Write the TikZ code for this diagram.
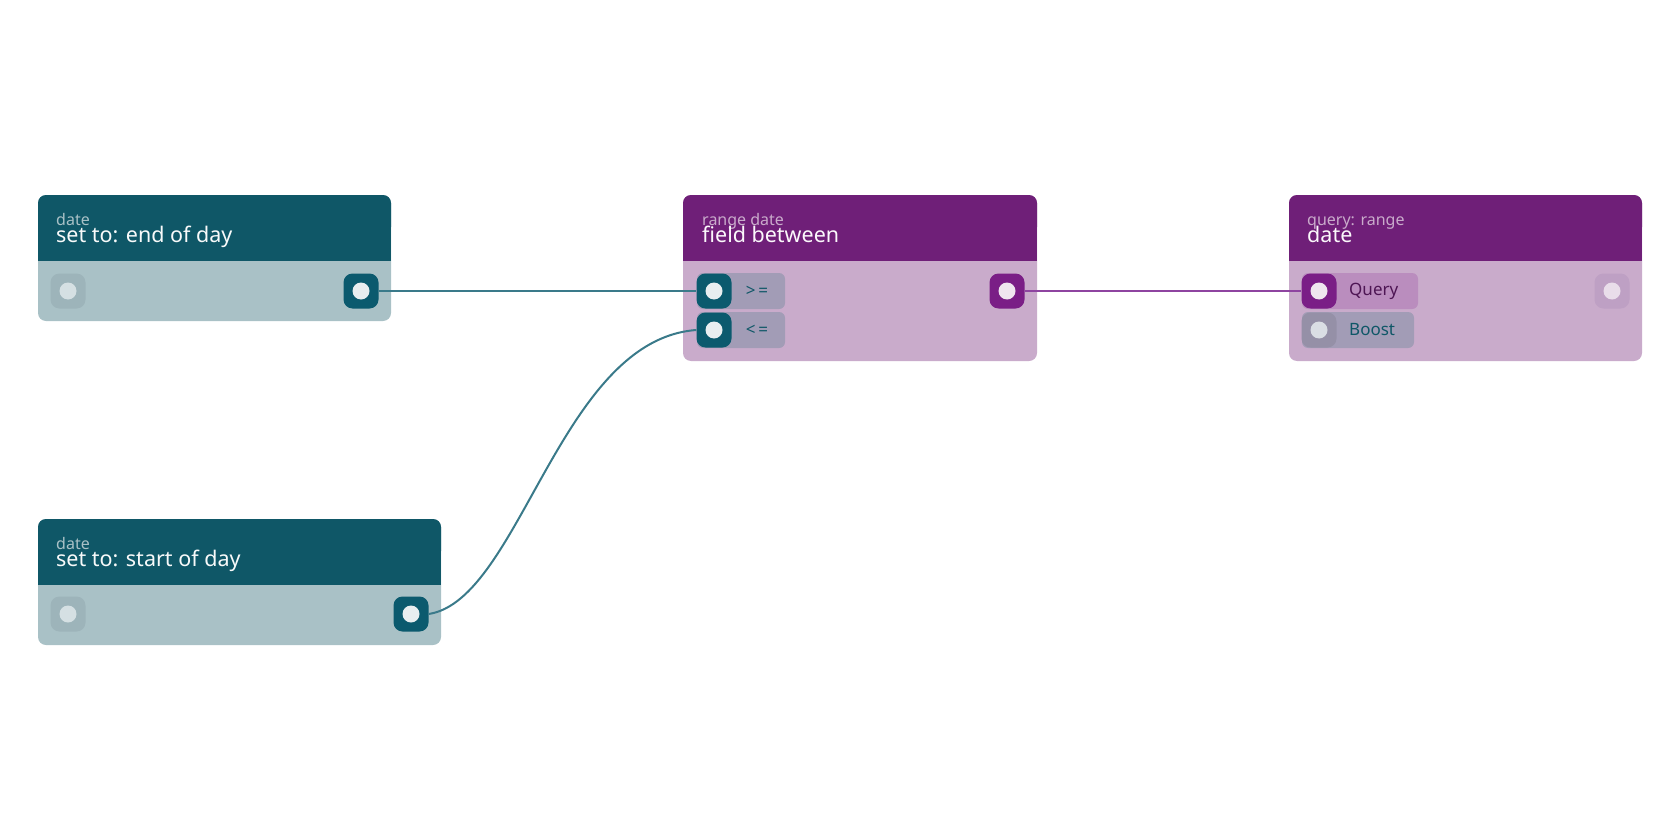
\documentclass[tikz,border=0pt]{standalone}
\usepackage{fontspec}
\setmainfont{Noto Sans}
\definecolor{tealh}{HTML}{0F5767}
\definecolor{tealb}{HTML}{A9C1C6}
\definecolor{tealp}{HTML}{0B5A6E}
\definecolor{tealin}{HTML}{9DB4BA}
\definecolor{purh}{HTML}{6F1F78}
\definecolor{purb}{HTML}{C9ABCB}
\definecolor{purp}{HTML}{7A1E86}
\definecolor{purin}{HTML}{BEA0C4}
\definecolor{chipg}{HTML}{A29CB6}
\definecolor{chipq}{HTML}{BA8DBE}
\definecolor{dot}{HTML}{E8EEF0}
\definecolor{tline}{HTML}{3A7A8A}
\definecolor{pline}{HTML}{8E44A0}
\begin{document}
\begin{tikzpicture}[x=1pt,y=-1pt,
  sub/.style={anchor=base west,font=\fontsize{16}{16}\selectfont,inner sep=0},
  ttl/.style={anchor=base west,font=\fontsize{21.5}{21}\selectfont,inner sep=0},
  port/.style={minimum size=35pt,inner sep=0,rounded corners=9pt},
  dotc/.style={circle,fill=dot,minimum size=17pt,inner sep=0},
  lbl/.style={font=\fontsize{17}{17}\selectfont,inner sep=0}]
\useasboundingbox (0,0) rectangle (1680,840);
\newcommand\nbox[6]{%
  \fill[#6,rounded corners=8pt] (#1,#2) rectangle (#3,#4);
  \fill[#5,rounded corners=8pt] (#1,#2) rectangle (#3,{#2+40});
  \fill[#5] (#1,{#2+30}) rectangle (#3,{#2+66});}
% box 1
\nbox{38}{195}{391}{321}{tealh}{tealb}
\node[sub,text=tealb] at (56,225) {date};
\node[ttl,text=white!92!tealb] at (56,242) {set to: end of day};
\node[port,fill=tealin] (b1in) at (68,291) {}; \node[dotc,fill=dot!70!tealb] at (b1in) {};
\node[port,fill=tealp] (b1out) at (361,291) {}; \node[dotc] at (b1out) {};
% box 4
\nbox{38}{519}{441}{645}{tealh}{tealb}
\node[sub,text=tealb] at (56,549) {date};
\node[ttl,text=white!92!tealb] at (56,566) {set to: start of day};
\node[port,fill=tealin] (b4in) at (68,614) {}; \node[dotc,fill=dot!70!tealb] at (b4in) {};
\node[port,fill=tealp] (b4out) at (411,614) {}; \node[dotc] at (b4out) {};
% box 2
\nbox{683}{195}{1037}{361}{purh}{purb}
\node[sub,text=purb] at (702,225) {range date};
\node[ttl,text=white!92!purb] at (702,242) {field between};
\fill[chipg,rounded corners=6pt] (697,273) rectangle (785,309);
\fill[chipg,rounded corners=6pt] (697,312) rectangle (785,348);
\node[port,fill=tealp] (ge) at (714,291) {}; \node[dotc] at (ge) {};
\node[port,fill=tealp] (le) at (714,330) {}; \node[dotc] at (le) {};
\node[lbl,text=tealh] at (757,291) {>\,=};
\node[lbl,text=tealh] at (757,330) {<\,=};
\node[port,fill=purp] (b2out) at (1007,291) {}; \node[dotc,fill=purb!30!white] at (b2out) {};
% box 3
\nbox{1289}{195}{1642}{361}{purh}{purb}
\node[sub,text=purb] at (1307,225) {query: range};
\node[ttl,text=white!92!purb] at (1307,242) {date};
\fill[chipq,rounded corners=6pt] (1302,273) rectangle (1418,309);
\fill[chipg,rounded corners=6pt] (1302,312) rectangle (1414,348);
\node[port,fill=purp] (q) at (1319,291) {}; \node[dotc,fill=purb!30!white] at (q) {};
\node[port,fill=chipg!92!black] (bo) at (1319,330) {}; \node[dotc,fill=dot!80!chipg] at (bo) {};
\node[lbl,text=purh!70!black,anchor=west] at (1349,291) {Query};
\node[lbl,text=tealh,anchor=west] at (1349,330) {Boost};
\node[port,fill=purin] (b3out) at (1612,291) {}; \node[dotc,fill=purb!40!white] at (b3out) {};
% connectors
\draw[tline,line width=2pt] (b1out.east) -- (ge.west);
\draw[tline,line width=2pt] (b4out.east) .. controls (520,600) and (560,340) .. (le.west);
\draw[pline,line width=2pt] (b2out.east) -- (q.west);
\end{tikzpicture}
\end{document}
